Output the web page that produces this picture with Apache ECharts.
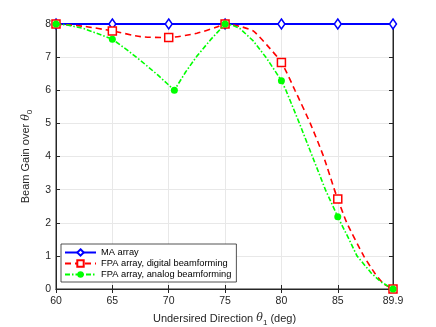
<!DOCTYPE html>
<html>
<head>
<meta charset="utf-8">
<script src="https://cdn.jsdelivr.net/npm/echarts@6/dist/echarts.min.js"></script>
<style>
  html, body { margin: 0; padding: 0; background: #fff; }
  #chart { width: 436px; height: 327px; }
</style>
</head>
<body>
<div id="chart"></div>
<script>
// values
const maX = [60, 65, 70, 75, 80, 85, 89.9]
const maY = [8, 8, 8, 8, 8, 8, 8]

const digitalX = [60, 62.5, 65, 67.5, 70, 72.5, 74.2, 75, 76.3, 77.5, 78.7, 80, 81.2, 82.56, 83.74, 84.7, 85, 85.8, 87.3, 88.3, 89.1, 89.9]
const digitalY = [8, 7.93, 7.79, 7.62, 7.59, 7.72, 7.9, 8, 7.93, 7.79, 7.37, 6.84, 6.0, 5.0, 4.0, 3.0, 2.72, 2.0, 1.0, 0.47, 0.15, 0]
const digitalMarks = [60, 65, 70, 75, 80, 85, 89.9]

const analogX = [60, 61, 62.5, 65, 66.3, 67.5, 69, 70.5, 71.5, 72.5, 73.7, 75, 75.6, 76.3, 77.5, 78.7, 80, 80.4, 81.6, 82.75, 83.9, 85, 86, 86.7, 88, 88.8, 89.9]
const analogY = [8, 7.97, 7.86, 7.54, 7.22, 6.9, 6.47, 6.0, 6.55, 7.03, 7.52, 8, 7.97, 7.87, 7.49, 6.96, 6.29, 6.0, 5.0, 4.0, 3.0, 2.18, 1.5, 1.0, 0.47, 0.22, 0]
const analogMarks = [60, 65, 70.5, 75, 80, 85, 89.9]

const xTicks = [60, 65, 70, 75, 80, 85, 89.9]

// build points, only show symbol where the figure has a marker
function points(xs, ys, marks) {
  return xs.map((x, i) => {
    const item = { value: [x, ys[i]] }
    if (marks.indexOf(x) < 0) item.symbol = "none"
    return item
  })
}

const axisColor = "#262626"
const font = "Liberation Sans, Arial, sans-serif"
const nameRich = {
  a: { fontSize: 11, color: axisColor, fontFamily: font },
  t: { fontSize: 11, color: axisColor, fontStyle: "italic", fontFamily: "DejaVu Serif" },
  s: { fontSize: 8, color: axisColor, padding: [9, 0, 0, 0], fontFamily: font },
}

const myChart = echarts.init(document.getElementById("chart"))

const option = {
  backgroundColor: "#fff",
  animation: false,
  textStyle: { fontFamily: font },
  grid: {
    left: 56,
    right: 43,
    top: 24,
    bottom: 38,
    outerBoundsMode: "none", // keep the plot box where it is
    show: true,
    borderColor: axisColor,
    borderWidth: 1,
  },
  legend: {
    orient: "vertical",
    left: 61,
    top: 244,
    backgroundColor: "#fff",
    borderColor: axisColor,
    borderWidth: 0.8,
    borderRadius: 0,
    padding: [4, 5, 3, 3],
    itemGap: 2,
    itemWidth: 31,
    itemHeight: 8,
    textStyle: { fontSize: 9.3, color: "#000", fontFamily: font },
    data: ["MA array", "FPA array, digital beamforming", "FPA array, analog beamforming"],
  },
  xAxis: [
    {
      type: "value",
      min: 60,
      max: 89.9,
      interval: 5,
      name: "{a|Undersired Direction }{t|θ}{s|1}{a| (deg)}",
      nameLocation: "middle",
      nameGap: 21,
      nameTextStyle: { rich: nameRich },
      axisLine: { show: true, lineStyle: { color: axisColor } },
      axisTick: { show: true, inside: true, length: 4, lineStyle: { color: axisColor } },
      axisLabel: {
        fontSize: 10.5,
        color: axisColor,
        margin: 7,
        formatter: (v) => (xTicks.indexOf(Math.round(v * 10) / 10) >= 0 ? String(Math.round(v * 10) / 10) : ""),
      },
      splitLine: { show: true, lineStyle: { color: "#e8e8e8" } },
    },
    {
      type: "value",
      position: "top",
      min: 60,
      max: 89.9,
      interval: 5,
      axisLine: { show: true, lineStyle: { color: axisColor } },
      axisTick: { show: true, inside: true, length: 4, lineStyle: { color: axisColor } },
      axisLabel: { show: false },
      splitLine: { show: false },
    },
  ],
  yAxis: [
    {
      type: "value",
      min: 0,
      max: 8,
      interval: 1,
      name: "{a|Beam Gain over }{t|θ}{s|0}",
      nameLocation: "middle",
      nameGap: 12,
      nameTextStyle: { rich: nameRich },
      axisLine: { show: true, lineStyle: { color: axisColor } },
      axisTick: { show: true, inside: true, length: 4, lineStyle: { color: axisColor } },
      axisLabel: { fontSize: 10.5, color: axisColor, margin: 5 },
      splitLine: { show: true, lineStyle: { color: "#e8e8e8" } },
    },
    {
      type: "value",
      position: "right",
      min: 0,
      max: 8,
      interval: 1,
      axisLine: { show: true, lineStyle: { color: axisColor } },
      axisTick: { show: true, inside: true, length: 4, lineStyle: { color: axisColor } },
      axisLabel: { show: false },
      splitLine: { show: false },
    },
  ],
  series: [
    {
      name: "MA array",
      type: "line",
      data: maX.map((x, i) => [x, maY[i]]),
      symbol: "diamond",
      symbolSize: [7, 10],
      showAllSymbol: true,
      lineStyle: { color: "#0000ff", width: 2 },
      itemStyle: { color: "#fff", borderColor: "#0000ff", borderWidth: 1.5 },
      z: 2,
    },
    {
      name: "FPA array, digital beamforming",
      type: "line",
      data: points(digitalX, digitalY, digitalMarks),
      symbol: "rect",
      symbolSize: 8,
      showAllSymbol: true,
      smooth: 0.2,
      lineStyle: { color: "#ff0000", width: 1.6, type: [6, 4] },
      itemStyle: { color: "#fff", borderColor: "#ff0000", borderWidth: 1.5 },
      z: 3,
    },
    {
      name: "FPA array, analog beamforming",
      type: "line",
      data: points(analogX, analogY, analogMarks),
      symbol: "circle",
      symbolSize: 7,
      showAllSymbol: true,
      lineStyle: { color: "#00ff00", width: 1.6, type: [5, 2, 1.5, 2] },
      itemStyle: { color: "#00ff00", borderColor: "#00ff00", borderWidth: 0 },
      z: 4,
    },
  ],
}

myChart.setOption(option)
</script>
</body>
</html>
